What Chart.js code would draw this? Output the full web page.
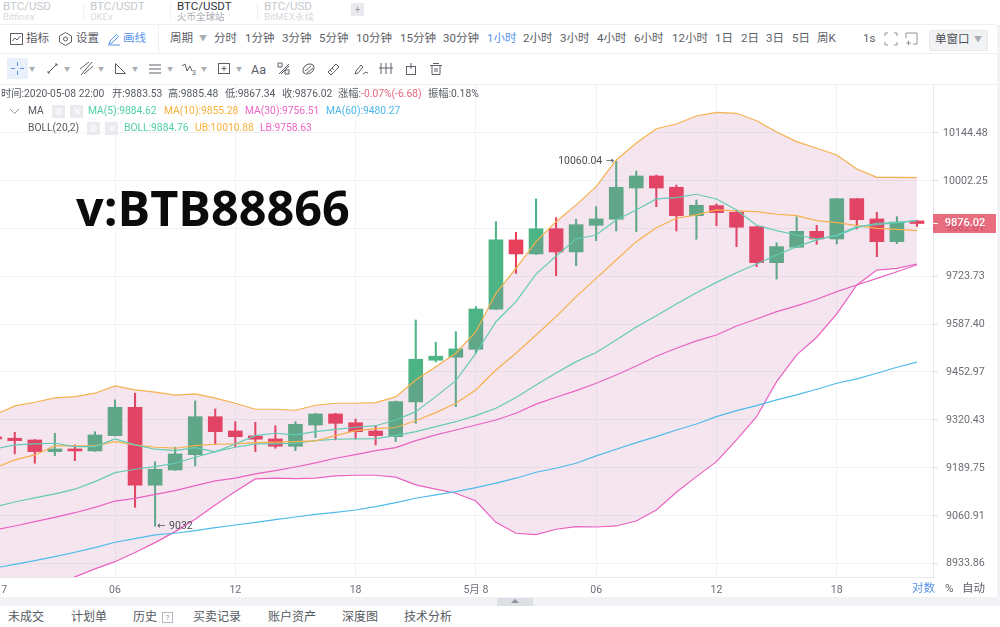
<!DOCTYPE html>
<html>
<head>
<meta charset="utf-8">
<script src="https://cdn.jsdelivr.net/npm/chart.js@4"></script>
<style>
  html, body { margin: 0; padding: 0; background: #fff; overflow: hidden; }
  #page { position: relative; width: 1000px; height: 627px; overflow: hidden; font-family: Roboto, "Noto Sans CJK SC", sans-serif; }
  #chart { position: absolute; left: 0; top: 84px; }
  .t { position: absolute; transform: translateY(calc(-50% + 1px)); white-space: nowrap; font-size: 11.5px; color: #5c6066; line-height: 1.2; }
  .i { font-size: 10.3px; color: #555a60; }
  .f { font-size: 12px; color: #555a60; }
  .tab { color: #c4c8cd; font-size: 11.5px; }
  .sub { color: #d8dbdf; font-size: 9.5px; }
  .hl { position: absolute; height: 1px; background: #eff0f3; left: 0; width: 997px; }
  .vl { position: absolute; width: 1px; background: #eff0f3; }
  .box { position: absolute; background: #e9ebee; color: #fff; font-size: 10px; text-align: center; line-height: 13px; width: 13px; height: 13px; }
  svg { position: absolute; overflow: visible; fill: none; stroke: #5c6066; stroke-width: 1; }
</style>
</head>
<body>
<div id="page">
  <canvas id="chart" width="1000" height="513"></canvas>

  <!-- onglets -->
  <span class="t tab" style="left:3px;top:6px">BTC/USD</span><span class="t sub" style="left:3px;top:16px">Bitfinex</span>
  <span class="t tab" style="left:90px;top:6px">BTC/USDT</span><span class="t sub" style="left:90px;top:16px">OKEx</span>
  <span class="t" style="left:177px;top:6px;color:#33363b">BTC/USDT</span><span class="t sub" style="left:177px;top:16px;color:#a9adb3">火币全球站</span>
  <span class="t tab" style="left:264px;top:6px">BTC/USD</span><span class="t sub" style="left:264px;top:16px">BitMEX永续</span>
  <div class="vl" style="left:83px;top:3px;height:16px"></div>
  <div class="vl" style="left:170px;top:3px;height:16px"></div>
  <div class="vl" style="left:257px;top:3px;height:16px"></div>
  <div class="box" style="left:351px;top:3px;color:#9a9ea4">+</div>
  <div class="hl" style="top:24px"></div>

  <!-- barre des périodes -->
  <svg style="left:10px;top:33px" width="13" height="12"><rect x="0.5" y="0.5" width="12" height="11"/><path d="M2.5 8 L5 5 L7 7 L10.5 3"/></svg>
  <span class="t" style="left:26px;top:38px">指标</span>
  <svg style="left:59px;top:32px" width="13" height="14"><path d="M6.5 .5 L12.5 4 V10 L6.5 13.5 L.5 10 V4 Z"/><circle cx="6.5" cy="7" r="2"/></svg>
  <span class="t" style="left:76px;top:38px">设置</span>
  <svg style="left:108px;top:33px;stroke:#5a94ea" width="12" height="12"><path d="M1 11 L2 8 L8.5 1.5 L10.5 3.5 L4 10 Z M0 12 H12"/></svg>
  <span class="t" style="left:123px;top:38px;color:#5a94ea">画线</span>
  <div class="vl" style="left:158px;top:25px;height:28px"></div>
  <span class="t" style="left:170px;top:38px">周期</span>
  <span class="t" style="left:199px;top:38px;font-size:8px;color:#a9adb3">▼</span>
  <span class="t" style="left:214px;top:38px">分时</span>
  <span class="t" style="left:245px;top:38px">1分钟</span>
  <span class="t" style="left:282px;top:38px">3分钟</span>
  <span class="t" style="left:319px;top:38px">5分钟</span>
  <span class="t" style="left:356px;top:38px">10分钟</span>
  <span class="t" style="left:400px;top:38px">15分钟</span>
  <span class="t" style="left:443px;top:38px">30分钟</span>
  <span class="t" style="left:487px;top:38px;color:#5a94ea">1小时</span>
  <span class="t" style="left:523px;top:38px">2小时</span>
  <span class="t" style="left:560px;top:38px">3小时</span>
  <span class="t" style="left:597px;top:38px">4小时</span>
  <span class="t" style="left:634px;top:38px">6小时</span>
  <span class="t" style="left:672px;top:38px">12小时</span>
  <span class="t" style="left:715px;top:38px">1日</span>
  <span class="t" style="left:741px;top:38px">2日</span>
  <span class="t" style="left:766px;top:38px">3日</span>
  <span class="t" style="left:792px;top:38px">5日</span>
  <span class="t" style="left:817px;top:38px">周K</span>
  <span class="t" style="left:863px;top:38px">1s</span>
  <svg style="left:885px;top:33px;stroke:#8f9399" width="12" height="12"><path d="M0 3 V0 H3 M9 0 H12 V3 M12 9 V12 H9 M3 12 H0 V9"/></svg>
  <svg style="left:906px;top:33px;stroke:#8f9399" width="12" height="12"><path d="M0 5 V0 H11 V11 H7 M0 10 H5 M2.5 7.5 V12.5"/></svg>
  <div style="position:absolute;left:929px;top:30px;width:57px;height:19px;background:#f1f2f4;border:1px solid #e8e9ec;border-radius:2px"></div>
  <span class="t" style="left:935px;top:39px;color:#4c5056">单窗口</span>
  <span class="t" style="left:974px;top:39px;font-size:8px;color:#a9adb3">▼</span>
  <div class="hl" style="top:53px"></div>

  <!-- barre de dessin -->
  <div style="position:absolute;left:7px;top:58px;width:21px;height:21px;background:#e8f1fb"></div>
  <svg style="left:11px;top:62px;stroke:#5a94ea" width="13" height="13"><path d="M6.5 0 V4 M6.5 9 V13 M0 6.5 H4 M9 6.5 H13"/></svg>
  <svg style="left:47px;top:63px" width="11" height="11"><path d="M1 10 L10 1 M1 8 V10 H3 M8 1 H10 V3"/></svg>
  <svg style="left:80px;top:62px" width="13" height="13"><path d="M0 7 L9 0 M4 12 L13 4 M1 13 L12 0"/></svg>
  <svg style="left:115px;top:63px" width="11" height="11"><path d="M.5 .5 V10.5 H10.5 Z"/></svg>
  <svg style="left:149px;top:64px" width="12" height="10"><path d="M0 1 H12 M0 5 H12 M0 9 H12"/></svg>
  <svg style="left:182px;top:63px" width="14" height="11"><path d="M0 3 L3 1 L5 8 L8 3 L10 8"/></svg>
  <span class="t" style="left:192px;top:72px;font-size:7px">3</span>
  <svg style="left:218px;top:63px" width="12" height="11"><rect x=".5" y=".5" width="11" height="10"/><path d="M6 3 V8 M3.5 5.5 H8.5"/></svg>
  <span class="t" style="left:251px;top:68px;font-size:12.5px">Aa</span>
  <svg style="left:277px;top:62px" width="13" height="13"><path d="M1 1 H5 V5 H1 Z M8 8 H12 V12 H8 Z M2 12 L12 2 M4 12 L12 4"/></svg>
  <svg style="left:302px;top:63px" width="13" height="12"><ellipse cx="6.5" cy="6" rx="6" ry="4.5" transform="rotate(-35 6.5 6)"/><path d="M3 8 L9 3 M5 10 L11 5"/></svg>
  <svg style="left:327px;top:63px" width="13" height="12"><path d="M1 9 L9 1 L12 4 L4 12 Z M5 5 L7 7 M3 7 L5 9"/></svg>
  <svg style="left:354px;top:63px" width="14" height="12"><path d="M1 11 L2 8 L7 2 L9 4 L4 10 Z M9 11 Q11 8 14 10"/></svg>
  <svg style="left:379px;top:63px" width="15" height="11"><path d="M2 0 V11 M7 0 V11 M12 0 V11 M0 5 H14"/></svg>
  <svg style="left:406px;top:63px" width="10" height="12"><rect x=".5" y="3.5" width="9" height="8"/><path d="M5 0 V6"/></svg>
  <svg style="left:430px;top:63px" width="12" height="12"><path d="M0 2.5 H12 M3 .5 H9 M2 2.5 V11.5 H10 V2.5 M5 5 V9 M7 5 V9"/></svg>
  <span class="t" style="left:29px;top:68px;font-size:6px;color:#a9adb3">▼</span>
  <span class="t" style="left:64px;top:68px;font-size:6px;color:#a9adb3">▼</span>
  <span class="t" style="left:98px;top:68px;font-size:6px;color:#a9adb3">▼</span>
  <span class="t" style="left:132px;top:68px;font-size:6px;color:#a9adb3">▼</span>
  <span class="t" style="left:167px;top:68px;font-size:6px;color:#a9adb3">▼</span>
  <span class="t" style="left:201px;top:68px;font-size:6px;color:#a9adb3">▼</span>
  <span class="t" style="left:236px;top:68px;font-size:6px;color:#a9adb3">▼</span>
  <div class="hl" style="top:84px;width:1000px"></div>

  <!-- légende -->
  <span class="t i" style="left:1px;top:93px">时间:2020-05-08 22:00</span>
  <span class="t i" style="left:112px;top:93px">开:9883.53</span>
  <span class="t i" style="left:168px;top:93px">高:9885.48</span>
  <span class="t i" style="left:225px;top:93px">低:9867.34</span>
  <span class="t i" style="left:282px;top:93px">收:9876.02</span>
  <span class="t i" style="left:338px;top:93px">涨幅:<span style="color:#e8677b">-0.07%(-6.68)</span></span>
  <span class="t i" style="left:428px;top:93px">振幅:0.18%</span>

  <svg style="left:10px;top:109px;stroke:#8f9399" width="9" height="5"><path d="M0 0 L4.5 4.5 L9 0"/></svg>
  <span class="t i" style="left:28px;top:110px">MA</span>
  <div class="box" style="left:52px;top:105px">⚙</div><div class="box" style="left:70px;top:105px">✕</div>
  <span class="t i" style="left:88px;top:110px;color:#4fd0a8">MA(5):9884.62</span>
  <span class="t i" style="left:164px;top:110px;color:#f7b13c">MA(10):9855.28</span>
  <span class="t i" style="left:245px;top:110px;color:#ee66c4">MA(30):9756.51</span>
  <span class="t i" style="left:326px;top:110px;color:#4db6ea">MA(60):9480.27</span>

  <span class="t i" style="left:28px;top:127px">BOLL(20,2)</span>
  <div class="box" style="left:87px;top:122px">⚙</div><div class="box" style="left:105px;top:122px">✕</div>
  <span class="t i" style="left:124px;top:127px;color:#4fd0a8">BOLL:9884.76</span>
  <span class="t i" style="left:195px;top:127px;color:#f7b13c">UB:10010.88</span>
  <span class="t i" style="left:260px;top:127px;color:#ee66c4">LB:9758.63</span>

  <span class="t" style="left:76px;top:206px;font-family:'Open Sans',sans-serif;font-weight:700;font-size:48.6px;color:#0b0b0b">v:BTB88866</span>

  <!-- bas de page -->
  <span class="t" style="left:912px;top:588px;color:#5a94ea">对数</span>
  <span class="t" style="left:945px;top:588px">%</span>
  <span class="t" style="left:962px;top:588px">自动</span>
  <div style="position:absolute;left:0;top:597px;width:1000px;height:9px;background:#f1f2f5"></div>
  <div style="position:absolute;left:497px;top:598px;width:36px;height:8px;background:#dcdfe3"></div>
  <div style="position:absolute;left:511px;top:599px;border:4px solid transparent;border-bottom:4px solid #8f9399;border-top:0"></div>
  <span class="t f" style="left:8px;top:616px">未成交</span>
  <span class="t f" style="left:71px;top:616px">计划单</span>
  <span class="t f" style="left:133px;top:616px">历史</span>
  <div style="position:absolute;left:162px;top:612px;width:9px;height:9px;border:1px solid #b5b8bd;font-size:8px;line-height:9px;text-align:center;color:#8f9399">?</div>
  <span class="t f" style="left:193px;top:616px">买卖记录</span>
  <span class="t f" style="left:268px;top:616px">账户资产</span>
  <span class="t f" style="left:342px;top:616px">深度图</span>
  <span class="t f" style="left:404px;top:616px">技术分析</span>
  <div style="position:absolute;left:997px;top:25px;width:3px;height:572px;background:#f1f2f5"></div>
</div>

<script>
// Bougies 1h
const opens = [9273.2, 9269.7, 9265, 9233.1, 9240.5, 9235, 9276.8, 9354.8, 9142.1, 9183.3, 9224.9, 9328.8, 9289.6, 9276, 9267.8, 9247.8, 9305.9, 9336.3, 9312.2, 9289.6, 9274, 9369.5, 9485.5, 9494, 9516, 9629.2, 9828.2, 9787.7, 9860.8, 9793.4, 9870.8, 9888.4, 9980, 10015.4, 9982.1, 9898.9, 9928.2, 9908.9, 9866.7, 9762.5, 9807, 9853.3, 9831, 9948.7, 9889.3, 9823.2, 9883.53];
const highs = [9286.8, 9286, 9266, 9283.3, 9251.4, 9287.7, 9375.1, 9393.7, 9205.8, 9245.1, 9372.3, 9350.1, 9315, 9313.3, 9304, 9315, 9338.2, 9338.2, 9322.4, 9304, 9372, 9598.8, 9536.1, 9565.8, 9636.6, 9881.3, 9850.4, 9947.8, 9893.1, 9888.4, 9925.3, 10060.04, 10030.2, 10018.3, 9988.8, 9944.9, 9933.2, 9915.6, 9867, 9820.3, 9896, 9870.8, 9949.5, 9949.5, 9908.9, 9896, 9885.48];
const lows = [9251.4, 9226.9, 9201.5, 9222.2, 9208.6, 9234, 9276, 9082.5, 9032, 9182, 9194.1, 9254.1, 9246.7, 9233.1, 9242.4, 9235.8, 9271.3, 9265, 9267.8, 9251.4, 9260.4, 9310.6, 9480.8, 9356.5, 9505.2, 9628, 9731.8, 9786, 9724.9, 9753.8, 9826.1, 9854.2, 9852.2, 9925.3, 9854.2, 9830.2, 9869.6, 9808.8, 9750.9, 9715.4, 9806, 9815.7, 9816.6, 9860, 9779.8, 9817.4, 9867.34];
const closes = [9267.8, 9263.1, 9233.1, 9240.5, 9235, 9278.7, 9354.8, 9142.1, 9185.2, 9226.8, 9328.8, 9287.7, 9274, 9267, 9247.8, 9307.9, 9336.3, 9310.6, 9287.7, 9276.8, 9370.4, 9488.3, 9496.8, 9517.2, 9630, 9828.2, 9787.7, 9860.8, 9793.4, 9872.6, 9889.3, 9982.1, 10015.4, 9980, 9898.9, 9929.4, 9907.7, 9865, 9762.5, 9808.8, 9853.3, 9831, 9948.7, 9887.2, 9823.2, 9880.3, 9876.02];

// Indicateurs
const ma5 = [9240.5, 9251.4, 9254.1, 9256, 9246.7, 9246.7, 9267.8, 9251.4, 9239.7, 9235.8, 9244, 9232.3, 9254.1, 9276.8, 9283.3, 9278.7, 9287.7, 9294.2, 9299.7, 9304, 9319.6, 9342.6, 9384.2, 9428.6, 9505.2, 9593.9, 9650.8, 9729.7, 9781.9, 9831, 9842.6, 9886.3, 9915.6, 9947.8, 9951.6, 9961.6, 9947.8, 9915.6, 9870.8, 9855.1, 9842.6, 9831, 9839.7, 9863.8, 9876.7, 9878.4, 9884.62];
const ma10 = [9188.7, 9210.5, 9224.1, 9248.7, 9248.7, 9248.7, 9260.4, 9251.4, 9245.1, 9242.4, 9249.5, 9253.3, 9254.1, 9257.7, 9258.8, 9260.4, 9262.3, 9276.8, 9290.4, 9295.8, 9299.1, 9317.7, 9339.9, 9365.9, 9402.8, 9458.3, 9505.2, 9556.5, 9608.2, 9665.1, 9717.4, 9770.3, 9823.2, 9863.8, 9891.3, 9901, 9915.6, 9912.7, 9910.7, 9903, 9898.9, 9884.3, 9878.4, 9869.6, 9862, 9859.1, 9855.28];
const ma30 = [9022.2, 9032.8, 9044.2, 9055.9, 9068.2, 9082.5, 9099.5, 9106.8, 9117.6, 9127.5, 9141, 9153.7, 9161, 9172.6, 9181.4, 9191.4, 9202.3, 9215.1, 9224.9, 9235.8, 9244, 9263.1, 9278.7, 9292.3, 9305.9, 9319.6, 9338.2, 9363.4, 9382.5, 9400.9, 9421.4, 9444.4, 9469.5, 9496.8, 9519.2, 9539.7, 9556.5, 9581.8, 9601.6, 9622.4, 9638.7, 9657.7, 9679.3, 9698.4, 9717.4, 9736.4, 9756.51];
const ma60 = [8921.5, 8931.2, 8940.7, 8951.3, 8963, 8975.2, 8989.5, 8999.1, 9008.9, 9013.4, 9020.3, 9028.3, 9035.4, 9042.6, 9049.5, 9056.7, 9063.9, 9069.3, 9075.5, 9084.4, 9095.2, 9107, 9115.9, 9124.9, 9135.6, 9147.5, 9161, 9177.1, 9187.9, 9201.5, 9221.4, 9239.7, 9257.7, 9274, 9292.3, 9308.7, 9328.8, 9345.4, 9359.3, 9375.1, 9388.9, 9404.7, 9421.4, 9433.3, 9449.1, 9465.9, 9480.27];
const bollMid = [9083.6, 9097, 9107.9, 9118.7, 9131.3, 9151.8, 9176, 9185.2, 9192.2, 9201.5, 9217.8, 9233.1, 9245.1, 9254.1, 9254.1, 9256, 9263.1, 9266.9, 9267.8, 9268.6, 9276.8, 9287.7, 9301.3, 9315, 9331.6, 9352.1, 9381.5, 9416.7, 9449.9, 9481.6, 9506.9, 9542.5, 9579, 9611, 9644.3, 9676.4, 9706, 9733.6, 9758.7, 9784.8, 9808.8, 9828.2, 9842.6, 9866.7, 9872.6, 9878.4, 9884.76];
const bollUp = [9333.5, 9358.4, 9368.7, 9380.6, 9384.2, 9393.7, 9413.9, 9402.8, 9396.4, 9388.1, 9391.7, 9379.8, 9365.9, 9349.3, 9349.3, 9346.5, 9360.4, 9365.9, 9365.9, 9367.6, 9383.4, 9430.5, 9467.6, 9505.2, 9565.8, 9674.7, 9746.3, 9823.2, 9881.3, 9930.3, 9983.9, 10063, 10113.6, 10156.2, 10170.3, 10194.3, 10205.4, 10202.4, 10180.2, 10146.3, 10117.4, 10097.8, 10077.9, 10036.2, 10011.5, 10011.5, 10010.88];
const bollLow = [8816.9, 8837.7, 8858.7, 8877, 8898, 8919, 8938.1, 8962.5, 8988.5, 9017.7, 9050.6, 9088.8, 9124.9, 9159.1, 9161, 9159.9, 9161, 9167.2, 9169, 9169, 9163.7, 9142.9, 9131.3, 9120.5, 9099.5, 9042.6, 9013.4, 9009.7, 9024, 9030.9, 9030.1, 9032.8, 9046, 9075.5, 9123.2, 9165.3, 9205.8, 9265, 9328.8, 9425.8, 9500.4, 9550.1, 9615.9, 9698.4, 9741.3, 9746.2, 9758.63];

// Axes
const priceTicks = [10144.48, 10002.25, 9862.01, 9723.73, 9587.40, 9452.97, 9320.43, 9189.75, 9060.91, 8933.86];
const timeTickIndex = [0, 6, 12, 18, 24, 30, 36, 42];
const timeTickLabels = ['5月 7', '06', '12', '18', '5月 8', '06', '12', '18'];
const lastPrice = 9876.02;
const highNote = '10060.04';
const lowNote = '9032';

const GREEN = '#4db585';
const RED = '#e8405b';
const TEAL = '#63cbb5';
const ORANGE = '#f6b04d';
const PINK = '#ea62c0';
const BLUE = '#4fbbea';

const points = arr => arr.map((v, i) => ({ x: i, y: v }));
const isUp = closes.map((c, i) => c >= opens[i]);
const candleColor = isUp.map(up => (up ? GREEN : RED));

function line(values, color, order, extra) {
  return Object.assign({
    type: 'line',
    data: points(values),
    borderColor: color,
    borderWidth: 1.2,
    pointRadius: 0,
    tension: 0,
    fill: false,
    order: order
  }, extra || {});
}

// Prix courant et notes haut/bas, posés sur l'échelle
const notesPlugin = {
  id: 'notes',
  afterDatasetsDraw(chart) {
    const { ctx, scales: { x, y } } = chart;
    const hi = highs.indexOf(Math.max(...highs));
    const lo = lows.indexOf(Math.min(...lows));
    const hiX = x.getPixelForValue(hi);
    const hiY = y.getPixelForValue(highs[hi]);
    const loX = x.getPixelForValue(lo);
    const loY = y.getPixelForValue(lows[lo]);
    ctx.save();
    ctx.fillStyle = '#4c5056';
    ctx.textBaseline = 'middle';
    ctx.font = '10.5px Roboto';
    ctx.textAlign = 'right';
    ctx.fillText(highNote, hiX - 14, hiY);
    ctx.textAlign = 'left';
    ctx.fillText(lowNote, loX + 14, loY);
    ctx.font = '10px "DejaVu Sans"';
    ctx.textAlign = 'right';
    ctx.fillText('→', hiX - 2, hiY);
    ctx.textAlign = 'left';
    ctx.fillText('←', loX + 2, loY);

    const py = y.getPixelForValue(lastPrice);
    ctx.fillStyle = 'rgba(226,72,95,0.8)';
    ctx.fillRect(933, py - 9.5, 63, 19);
    ctx.fillStyle = '#fff';
    ctx.font = '500 11px Roboto';
    ctx.textAlign = 'center';
    ctx.fillText(lastPrice.toFixed(2), 965, py);
    ctx.fillRect(933, py - 0.5, 5, 1);
    ctx.restore();
  }
};

new Chart(document.getElementById('chart').getContext('2d'), {
  data: {
    datasets: [
      line(ma5, TEAL, 1),
      line(ma10, ORANGE, 1),
      line(ma30, PINK, 1),
      line(ma60, BLUE, 1),
      line(bollMid, TEAL, 1),
      line(bollLow, PINK, 1),
      // la zone passe par-dessus les bougies
      line(bollUp, ORANGE, 2, { fill: { target: '-1' }, backgroundColor: 'rgba(190,95,155,0.16)' }),
      {
        type: 'bar',
        data: opens.map((o, i) => ({ x: i, y: [o, closes[i]] })),
        backgroundColor: candleColor,
        barThickness: 14,
        grouped: false,
        order: 3
      },
      {
        type: 'bar',
        data: lows.map((l, i) => ({ x: i, y: [l, highs[i]] })),
        backgroundColor: candleColor,
        barThickness: 1.4,
        grouped: false,
        order: 4
      }
    ]
  },
  options: {
    responsive: false,
    animation: false,
    layout: { autoPadding: false, padding: 0 },
    plugins: { legend: { display: false }, tooltip: { enabled: false } },
    scales: {
      x: {
        type: 'linear',
        offset: false,
        min: 0.264,
        max: 46.8,
        grid: { color: '#f1f3f7', offset: false, drawTicks: false },
        border: { color: '#e6e8ec' },
        afterBuildTicks: s => { s.ticks = timeTickIndex.map(v => ({ value: v })); },
        afterFit: s => { s.height = 20; s.paddingLeft = 0; s.paddingRight = 0; },
        ticks: {
          autoSkip: false,
          maxRotation: 0,
          padding: 7,
          color: '#6a6e74',
          font: { family: 'Roboto, "Noto Sans CJK SC"', size: 10.5 },
          callback: v => timeTickLabels[timeTickIndex.indexOf(v)]
        }
      },
      y: {
        type: 'logarithmic',
        position: 'right',
        min: 8897.8,
        max: 10291,
        grid: { color: '#f1f3f7', tickColor: '#dfe1e6', tickLength: 5 },
        border: { color: '#e6e8ec' },
        afterBuildTicks: s => { s.ticks = priceTicks.map(v => ({ value: v })); },
        afterFit: s => { s.width = 67; s.paddingTop = 0; s.paddingBottom = 0; },
        ticks: {
          autoSkip: false,
          crossAlign: 'center',
          padding: 5,
          labelOffset: 0.5,
          color: '#6a6e74',
          font: { family: 'Roboto', size: 10.7 },
          callback: v => v.toFixed(2)
        }
      }
    }
  },
  plugins: [notesPlugin]
});
</script>
</body>
</html>
